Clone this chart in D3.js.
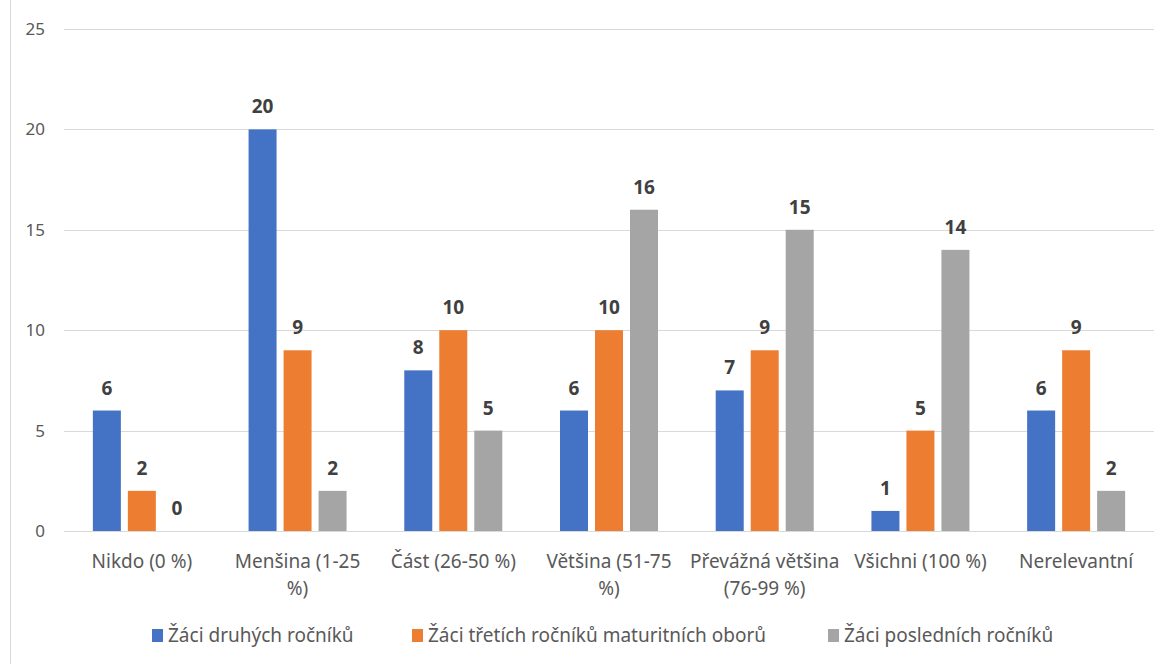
<!DOCTYPE html>
<html>
<head>
<meta charset="utf-8">
<script src="https://cdn.jsdelivr.net/npm/d3@7"></script>
<style>
  body { margin: 0; background: #fff; }
  svg text { font-family: "Noto Sans", "Open Sans", sans-serif; }
</style>
</head>
<body>
<svg id="chart" width="1154" height="664"></svg>
<script>
var categories = ['Nikdo (0 %)', 'Menšina (1-25\n%)', 'Část (26-50 %)', 'Většina (51-75\n%)',
                  'Převážná většina\n(76-99 %)', 'Všichni (100 %)', 'Nerelevantní'];
var seriesNames = ['Žáci druhých ročníků', 'Žáci třetích ročníků maturitních oborů', 'Žáci posledních ročníků'];
var druhe = [6, 20, 8, 6, 7, 1, 6];
var treti = [2, 9, 10, 10, 9, 5, 9];
var posledni = [0, 2, 5, 16, 15, 14, 2];
var yTicks = [0, 5, 10, 15, 20, 25];
var colors = ['#4472C4', '#ED7D31', '#A5A5A5'];

var series = [druhe, treti, posledni];
var svg = d3.select('#chart');
var plotLeft = 64, plotRight = 1154, plotTop = 29, plotBottom = 531;
var groupW = 98;

var x = d3.scaleBand().domain(categories).range([plotLeft, plotRight]);
var xs = d3.scaleBand().domain([0, 1, 2]).range([0, groupW]).paddingInner(0.2);
var y = d3.scaleLinear().domain([0, 25]).range([plotBottom, plotTop]);

// border line on the left
svg.append('line')
  .attr('x1', 10.5).attr('x2', 10.5).attr('y1', 0).attr('y2', 664)
  .attr('stroke', '#d9d9d9');

// gridlines
svg.append('g').selectAll('line').data(yTicks).join('line')
  .attr('x1', plotLeft).attr('x2', plotRight)
  .attr('y1', d => Math.round(y(d)) + 0.5).attr('y2', d => Math.round(y(d)) + 0.5)
  .attr('stroke', '#d9d9d9');

svg.append('g').selectAll('text').data(yTicks).join('text')
  .attr('x', 45).attr('y', d => y(d)).attr('dy', '0.35em')
  .attr('text-anchor', 'end')
  .style('font-size', '17px').style('fill', '#595959')
  .text(d => d);

// bars
var groups = svg.append('g').selectAll('g').data(series).join('g')
  .attr('fill', (d, i) => colors[i]);

groups.each(function(vals, si) {
  var g = d3.select(this);
  var off = (x.bandwidth() - groupW) / 2;
  g.selectAll('rect').data(vals).join('rect')
    .attr('x', (d, i) => x(categories[i]) + off + xs(si))
    .attr('width', xs.bandwidth())
    .attr('y', d => y(d))
    .attr('height', d => plotBottom - y(d));
  g.selectAll('text').data(vals).join('text')
    .attr('x', (d, i) => x(categories[i]) + off + xs(si) + xs.bandwidth() / 2)
    .attr('y', d => y(d) - 16)
    .attr('text-anchor', 'middle')
    .style('font-size', '19px').style('font-weight', 'bold').style('fill', '#404040')
    .text(d => d);
});

// category labels
var cl = svg.append('g').selectAll('text').data(categories).join('text')
  .attr('x', d => x(d) + x.bandwidth() / 2)
  .attr('y', 568)
  .attr('text-anchor', 'middle')
  .style('font-size', '19px').style('fill', '#595959');
cl.each(function(d) {
  var t = d3.select(this);
  d.split('\n').forEach(function(line, i) {
    t.append('tspan').attr('x', t.attr('x')).attr('dy', i ? 27 : 0).text(line);
  });
});

// legend
var legX = [152, 412, 828];
var leg = svg.append('g').selectAll('g').data(seriesNames).join('g')
  .attr('transform', (d, i) => 'translate(' + legX[i] + ',629)');
leg.append('rect').attr('width', 11).attr('height', 13).attr('fill', (d, i) => colors[i]);
leg.append('text').attr('x', 16).attr('y', 13)
  .style('font-size', '19px').style('fill', '#595959')
  .text(d => d);
</script>
</body>
</html>
